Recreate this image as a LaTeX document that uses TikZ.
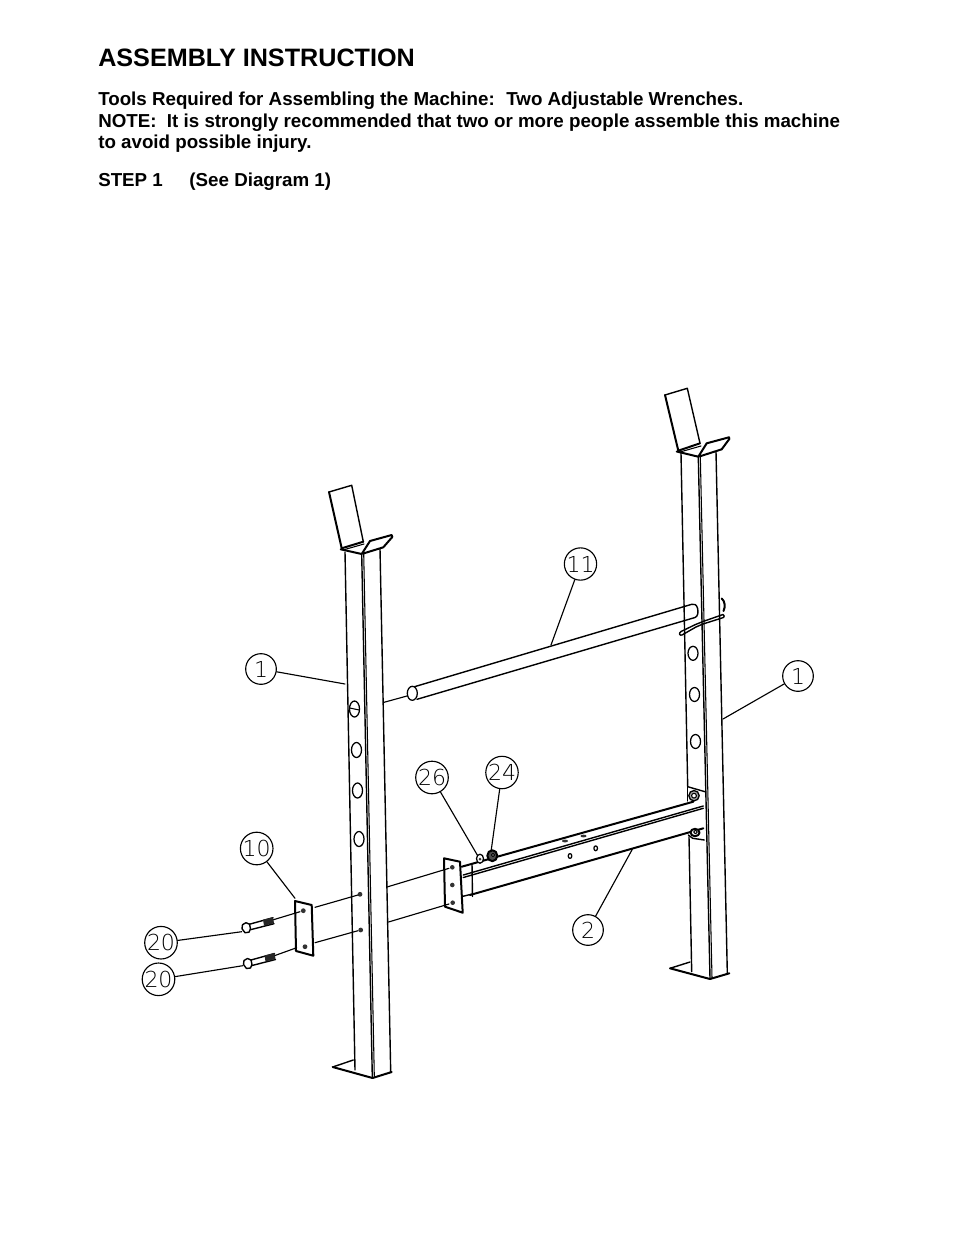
\documentclass[tikz,border=0pt]{standalone}
\usepackage{fontspec}
\setmainfont{Liberation Sans}
\newfontfamily\stencilfont{DejaVu Sans ExtraLight}
\begin{document}
\begin{tikzpicture}[x=0.75pt,y=-0.75pt,line join=round,line cap=round,
  thin line/.style={draw=black,line width=0.8pt},
  med line/.style={draw=black,line width=1.05pt},
  bold line/.style={draw=black,line width=1.5pt},
  leader/.style={draw=black,line width=0.85pt},
  callout/.style={draw=black,line width=0.85pt,circle,minimum size=23pt,inner sep=0pt,fill=white,font=\fontsize{16.5}{17}\selectfont\stencilfont},
  hole/.style={draw=black,line width=0.95pt,fill=white},
  dot/.style={fill=black!80},
  txt/.style={anchor=base west,inner sep=0pt,font=\fontsize{14.06}{16.1}\selectfont\bfseries}]
\useasboundingbox (0,0) rectangle (954,1235);

% text
\node[anchor=base west,inner sep=0pt,font=\fontsize{18.88}{21}\selectfont\bfseries] (title) at (98,66.5) {ASSEMBLY INSTRUCTION};
\node[txt] (t1) at (98,105.5) {Tools Required for Assembling the Machine:\hspace{0.62em}Two Adjustable Wrenches.};
\node[txt] (t2) at (98,127) {NOTE:\ \ It is strongly recommended that two or more people assemble this machine};
\node[txt] (t3) at (98,148.5) {to avoid possible injury.};
\node[txt] (t4) at (98,186.5) {STEP 1\hspace{1.42em}(See Diagram 1)};

% ---- tube 11
\draw[med line] (417,699.3) -- (695,617.5) .. controls (698,616.5) and (698.5,612) .. (697.5,608) .. controls (696.5,604.5) and (694,603.6) .. (691.7,604.3) -- (414.5,686.7);
\draw[hole] (412.3,693.3) ellipse [x radius=5,y radius=7];
\coordinate (tubeghostA) at (384,702.3);
\coordinate (tubeghostB) at (407,696);
\draw[leader] (tubeghostA) -- (tubeghostB);
% tube clip and far hole on right upright
\draw[bold line] (721.7,598.5) .. controls (725,601) and (725.5,607) .. (723.5,611);
\draw[med line] (703,621.5) -- (695.5,624.5) -- (681,631.5) .. controls (678.5,633) and (679.5,636) .. (682,635) -- (696,627) -- (703,624);
\draw[med line] (703,621.5) -- (723,614.5) .. controls (724.5,615) and (724.5,617) .. (723.5,617.5) -- (703,624);

% ---- right upright
\draw[med line] (681,453.3) -- (687.7,786.7);
\draw[med line] (687.7,786.7) -- (687.7,801);
\draw[med line] (689,836.7) -- (691.7,971.7);
\draw[med line] (698.3,456.7) -- (710,978.3);
\draw[thin line] (700.3,456) -- (712,978);
\draw[med line] (716,451.7) -- (727.3,972.7);
% right saddle
\draw[bold line] (665,395) -- (678.3,450.7);
\draw[med line] (665,395) -- (687.3,388.3) -- (700,443.3);
\draw[bold line] (678.3,450.7) -- (700,443.3);
\draw[thin line] (680,452) -- (701,446);
\draw[bold line] (676.7,451.5) -- (698.3,456.7) -- (706.7,443.3) -- (729,437.3) -- (729.3,439) -- (721.7,449.3) -- (699.3,456.5);
% right foot
\draw[bold line] (710,979) -- (670,968.3);
\draw[med line] (670,968.3) -- (690,962);
\draw[bold line] (710,979) -- (729.3,973.3);
% right holes
\draw[hole] (693,653.3) ellipse [x radius=5,y radius=7];
\draw[hole] (694.5,694.5) ellipse [x radius=5,y radius=7];
\draw[hole] (695.5,741.5) ellipse [x radius=5,y radius=7];

% ---- beam 2 with its brackets
\draw[med line] (687.7,786.7) -- (705,791.7);
\draw[med line] (688.3,835) -- (692.7,838.3) -- (704.3,840);
\draw[bold line] (461.7,866.7) -- (693.3,801.7);
\draw[med line] (463.3,875) -- (703.3,806);
\draw[med line] (463.3,877.5) -- (703.3,808.3);
\draw[bold line] (470,895) -- (703.3,828.3);
\draw[med line] (472,863.5) -- (472.5,896.5);
\draw[med line] (462,896.5) -- (472.5,894);
\draw[line width=1pt,draw=black,fill=black!35] (694,795.7) circle [radius=5.2];
\draw[thin line,fill=white] (694,795.7) circle [radius=2.4];
\draw[bold line,fill=white] (695,832.5) ellipse [x radius=4.5,y radius=3.7];
\draw[thin line] (695.5,832) circle [radius=1.8];
\fill[dot] (565,841) ellipse [x radius=3,y radius=1.4];
\fill[dot] (583.5,836) ellipse [x radius=3,y radius=1.4];
\draw[hole] (570,856) ellipse [x radius=1.8,y radius=2.4];
\draw[hole] (595.7,848.3) ellipse [x radius=1.8,y radius=2.4];

% ghost lines of the beam through upright 1
\coordinate (ghostA1) at (387,887);
\coordinate (ghostB1) at (449,868.3);
\coordinate (ghostA2) at (388.5,922);
\coordinate (ghostB2) at (449,904);
\draw[leader] (ghostA1) -- (ghostB1);
\draw[leader] (ghostA2) -- (ghostB2);

% bracket plate on the beam end
\draw[bold line] (444,858.3) -- (460,861.7) -- (462.7,912.7) -- (445,906.7) -- cycle;
\fill[dot] (452.3,867.3) circle [radius=2.3];
\fill[dot] (452.3,885) circle [radius=2.3];
\fill[dot] (452.7,902.7) circle [radius=2.3];
% nut and washer
\draw[hole] (480,858.7) ellipse [x radius=3.5,y radius=4.5];
\fill[dot] (480,859) circle [radius=1.5];
\draw[bold line,fill=black!70] (492.3,855.7) ellipse [x radius=5,y radius=5.5];
\draw[thin line,fill=white] (493,855) circle [radius=1.6];

% ---- left upright
\draw[med line] (345,552) -- (355,1070);
\draw[med line] (361.7,554) -- (372.3,1077);
\draw[thin line] (363.7,553.5) -- (374.3,1076.5);
\draw[med line] (380,549) -- (390.7,1072);
% left saddle
\draw[bold line] (329,492) -- (341.7,548.3);
\draw[med line] (329,492) -- (351.7,485.3) -- (363.3,541.7);
\draw[bold line] (341.7,548.3) -- (363.3,541.7);
\draw[thin line] (343,550) -- (364,544);
\draw[bold line] (340.7,549.3) -- (361.7,554) -- (370,541) -- (391.7,535) -- (392.3,537) -- (383.3,547.3) -- (363.3,553.5);
% left foot
\draw[bold line] (372.5,1078) -- (332.7,1067);
\draw[med line] (332.7,1067) -- (353.3,1060);
\draw[bold line] (372.5,1078) -- (391.7,1072);
% left holes
\draw[hole] (354.5,709) ellipse [x radius=5,y radius=8];
\draw[thin line] (349.7,708) -- (359.3,710);
\draw[hole] (356.5,750) ellipse [x radius=5,y radius=7.5];
\draw[hole] (357.5,790.5) ellipse [x radius=5,y radius=7.5];
\draw[hole] (359,839) ellipse [x radius=5,y radius=7.5];
\fill[dot] (360,894.3) circle [radius=2.4];
\fill[dot] (360.7,930) circle [radius=2.4];

% ---- plate 10
\draw[bold line] (295,901) -- (311.7,905) -- (313.3,955.7) -- (296,951) -- cycle;
\fill[dot] (303.3,910.7) circle [radius=2.4];
\fill[dot] (305,946.7) circle [radius=2.4];
\coordinate (plateA1) at (315,907.3);
\coordinate (plateB1) at (358,895);
\coordinate (plateA2) at (315,942.7);
\coordinate (plateB2) at (358,930.7);
\draw[leader] (plateA1) -- (plateB1);
\draw[leader] (plateA2) -- (plateB2);

% ---- bolts 20
\foreach \bx/\by/\bn in {246/927.7/a,247.5/963.5/b}{
  \begin{scope}[shift={(\bx,\by)}]
    \draw[med line,fill=white] (-4,1) -- (-3.5,-3) -- (0,-5) -- (3.5,-3.5) -- (4.5,1) -- (3,4.5) -- (-1,5) -- cycle;
    \draw[med line] (3.5,-3.5) -- (27,-10);
    \draw[med line] (4.5,2) -- (28,-4);
    \fill[black!85] (17,-8) -- (27,-10.5) -- (28,-4.5) -- (18,-2) -- cycle;
    \coordinate (boltTail\bn) at (27.5,-8);
  \end{scope}
}
\coordinate (plateHoleA) at (300,911.7);
\coordinate (plateHoleB) at (296.7,947.7);
\draw[leader] (boltTaila) -- (plateHoleA);
\draw[leader] (boltTailb) -- (plateHoleB);

% ---- callouts
\node[callout] (c1L) at (261,669) {1};
\node[callout] (c1R) at (798,676) {1};
\node[callout] (c11) at (580.5,564) {11};
\node[callout] (c10) at (256.7,848.5) {10};
\node[callout] (c20a) at (161,942.7) {20};
\node[callout] (c20b) at (158.5,979.3) {20};
\node[callout] (c26) at (432,777.5) {26};
\node[callout] (c24) at (502,772.5) {24};
\node[callout] (c2) at (588,930) {2};

\coordinate (e1L) at (345,684);
\coordinate (e1R) at (723,719);
\coordinate (e11) at (551,645);
\coordinate (e10) at (295,898.3);
\coordinate (e20a) at (241.7,931.7);
\coordinate (e20b) at (242.7,965.7);
\coordinate (e26) at (477.3,855);
\coordinate (e24) at (491,851.7);
\coordinate (e2) at (632.3,849.3);
\foreach \a/\b in {c1L/e1L,c1R/e1R,c11/e11,c10/e10,c20a/e20a,c20b/e20b,c26/e26,c24/e24,c2/e2}
  \draw[leader] (\a) -- (\b);
\end{tikzpicture}
\end{document}
